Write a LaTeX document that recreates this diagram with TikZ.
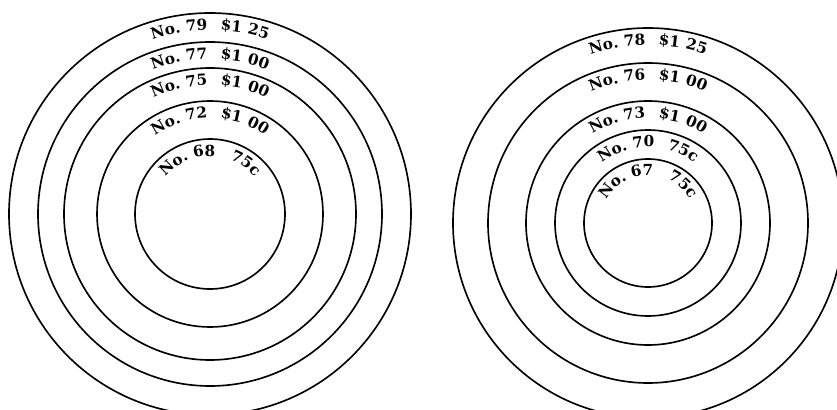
\documentclass[tikz,border=0pt]{standalone}
\usepackage{fontspec}
\usepackage{tikz}
\usetikzlibrary{decorations.text}

\newfontfamily\ringfamily{DejaVu Serif}
\newcommand{\ringfont}{\ringfamily\bfseries\fontsize{13}{15}\selectfont}
% label set along the inner side of a ring: centre, baseline radius, text
\newcommand{\ringtext}[3]{%
  \path[ringlabel={#3}] (#1) ++(180:#2) arc[start angle=180, end angle=0, radius=#2];
}

\tikzset{
  ring/.style={line width=1.4pt},
  ringlabel/.style={decorate, decoration={text along path, text align=center, text={#1}}}
}

\begin{document}
\begin{tikzpicture}[x=0.03cm, y=0.03cm]
    \useasboundingbox (0,0) rectangle (837,409);
    \clip (0,0) rectangle (837,409);

    \coordinate (left) at (210,195);
    \coordinate (right) at (648,186);

    % left set of rings
    \draw[ring] (left) circle[radius=201];
    \draw[ring] (left) circle[radius=172];
    \draw[ring] (left) circle[radius=146];
    \draw[ring] (left) circle[radius=113];
    \draw[ring] (left) circle[radius=75];

    \ringtext{left}{184}{|\ringfont|No. 79{\kern11pt}{\$1}{\kern5pt}25}
    \ringtext{left}{155}{|\ringfont|No. 77{\kern11pt}{\$1}{\kern5pt}00}
    \ringtext{left}{129}{|\ringfont|No. 75{\kern11pt}{\$1}{\kern5pt}00}
    \ringtext{left}{96}{|\ringfont|No. 72{\kern11pt}{\$1}{\kern5pt}00}
    \ringtext{left}{58}{|\ringfont|No. 68{\kern13pt}75c}

    % right set of rings
    \draw[ring] (right) circle[radius=195];
    \draw[ring] (right) circle[radius=160];
    \draw[ring] (right) circle[radius=122];
    \draw[ring] (right) circle[radius=93];
    \draw[ring] (right) circle[radius=64];

    \ringtext{right}{178}{|\ringfont|No. 78{\kern11pt}{\$1}{\kern5pt}25}
    \ringtext{right}{143}{|\ringfont|No. 76{\kern11pt}{\$1}{\kern5pt}00}
    \ringtext{right}{105}{|\ringfont|No. 73{\kern11pt}{\$1}{\kern5pt}00}
    \ringtext{right}{76}{|\ringfont|No. 70{\kern11pt}75c}
    \ringtext{right}{48}{|\ringfont|No. 67{\kern13pt}75c}
\end{tikzpicture}
\end{document}
